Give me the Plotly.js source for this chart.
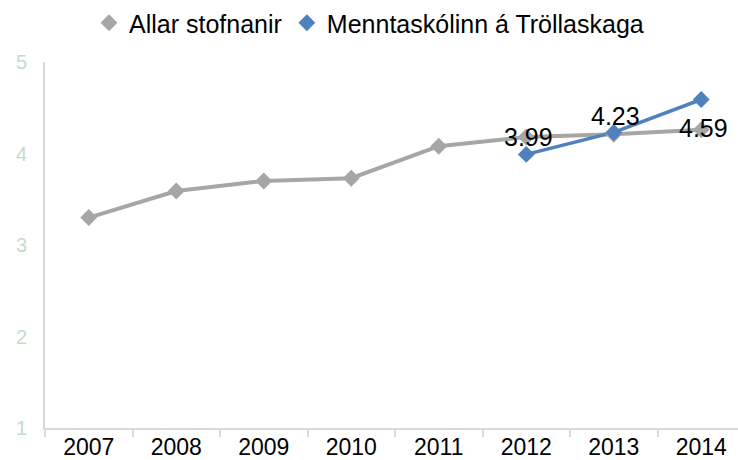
<!DOCTYPE html>
<html>
<head>
<meta charset="utf-8">
<script src="https://cdn.plot.ly/plotly-3.0.1.min.js"></script>
<style>html,body{margin:0;padding:0;background:#fff}#chart{width:738px;height:460px}</style>
</head>
<body>
<div id="chart"></div>
<script>
const years = ['2007','2008','2009','2010','2011','2012','2013','2014'];
const allar = [3.30, 3.59, 3.70, 3.73, 4.08, 4.18, 4.21, 4.26];
const mtrYears = ['2012','2013','2014'];
const mtr = [3.99, 4.23, 4.59];
const labelShift = [17, 16, -28];

const FONT = 'Liberation Sans, Arial, sans-serif';
const GRAY = '#a6a6a6', BLUE = '#4f81bd';

const traces = [
  {x: years, y: allar, type: 'scatter', mode: 'lines', name: 'Allar stofnanir', showlegend: false,
   line: {color: GRAY, width: 4}},
  {x: mtrYears, y: mtr, type: 'scatter', mode: 'lines', name: 'Menntaskólinn á Tröllaskaga', showlegend: false,
   line: {color: BLUE, width: 3.5}},
  {x: years, y: allar, type: 'scatter', mode: 'markers', name: 'Allar stofnanir',
   marker: {symbol: 'diamond', size: 13, color: GRAY}},
  {x: mtrYears, y: mtr, type: 'scatter', mode: 'markers', name: 'Menntaskólinn á Tröllaskaga',
   marker: {symbol: 'diamond', size: 13, color: BLUE}}
];

const annotations = mtrYears.map((yr, i) => ({
  xref: 'x', yref: 'y',
  x: years.indexOf(yr), y: mtr[i], text: mtr[i].toFixed(2), showarrow: false,
  yanchor: 'middle', xanchor: 'center', yshift: labelShift[i], xshift: 2,
  font: {family: FONT, size: 25, color: '#000000'}
}));

const layout = {
  width: 738, height: 460,
  margin: {l: 45, r: 0, t: 62, b: 32},
  paper_bgcolor: '#fff', plot_bgcolor: '#fff',
  font: {family: FONT, color: '#000'},
  showlegend: true,
  legend: {orientation: 'h', xref: 'container', yref: 'container', x: 0.5, xanchor: 'center', y: 1, yanchor: 'top',
           font: {size: 25, color: '#000'}, itemwidth: 30, tracegroupgap: 0, traceorder: 'normal'},
  xaxis: {type: 'category', range: [-0.5, 7.42], showgrid: false, zeroline: false,
          showline: true, linecolor: '#d9d9d9', linewidth: 2,
          ticks: 'outside', tickson: 'boundaries', ticklen: 7, tickcolor: '#d9d9d9', tickwidth: 2,
          tickfont: {size: 23, color: '#000'}, ticklabelstandoff: -3},
  yaxis: {range: [1, 5], dtick: 1, showgrid: false, zeroline: false,
          showline: true, linecolor: '#d9d9d9', linewidth: 2, ticks: '',
          tickfont: {size: 20, color: '#c3dcc6'}, ticklabelstandoff: 12},
  annotations: annotations
};

Plotly.newPlot('chart', traces, layout, {displayModeBar: false, staticPlot: true});
</script>
</body>
</html>
